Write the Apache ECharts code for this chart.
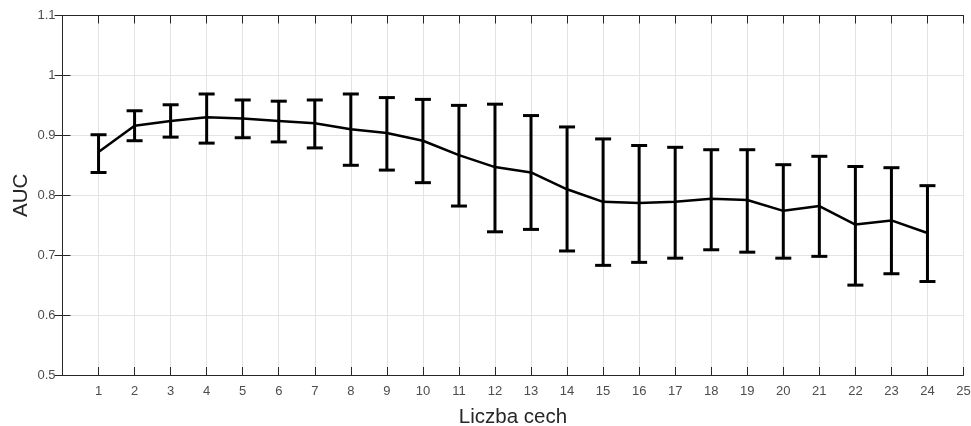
<!DOCTYPE html>
<html>
<head>
<meta charset="utf-8">
<script src="https://cdn.jsdelivr.net/npm/echarts@6/dist/echarts.min.js"></script>
<style>
html,body{margin:0;padding:0;background:#fff;}
#chart{width:971px;height:426px;}
</style>
</head>
<body>
<div id="chart"></div>
<script>
const features = [1,2,3,4,5,6,7,8,9,10,11,12,13,14,15,16,17,18,19,20,21,22,23,24];
const aucMean  = [0.872,0.916,0.924,0.930,0.928,0.924,0.920,0.910,0.904,0.891,0.867,0.847,0.838,0.810,0.789,0.787,0.789,0.794,0.792,0.774,0.782,0.751,0.758,0.737];
const aucUpper = [0.901,0.941,0.951,0.969,0.959,0.957,0.959,0.969,0.963,0.960,0.950,0.952,0.933,0.914,0.894,0.883,0.880,0.876,0.876,0.851,0.865,0.848,0.846,0.816];
const aucLower = [0.838,0.891,0.897,0.887,0.896,0.889,0.879,0.850,0.842,0.821,0.782,0.739,0.743,0.707,0.683,0.688,0.695,0.709,0.705,0.695,0.698,0.650,0.669,0.656];
const xTitle = 'Liczba cech';
const yTitle = 'AUC';

const lineData = features.map((f,i)=>[f, aucMean[i]]);
const errData = features.map((f,i)=>[f, aucLower[i], aucUpper[i]]);

const FONT = 'Liberation Sans, Arial, Helvetica, sans-serif';
const chart = echarts.init(document.getElementById('chart'), null, {renderer:'canvas'});
const labelStyle = {color:'#4d4d4d', fontSize:13, fontFamily:FONT};
const axisLine = {show:true, lineStyle:{color:'#262626', width:1}};
const tick = {show:true, inside:true, length:8, lineStyle:{color:'#262626', width:1}};
const split = {show:true, lineStyle:{color:'#e3e3e3', width:1}};

chart.setOption({
  animation:false,
  backgroundColor:'#fff',
  grid:{left:62.5, right:7.5, top:15.5, bottom:51, containLabel:false, outerBoundsMode:'none'},
  xAxis:[{
    type:'value', min:0, max:25, interval:1, position:'bottom',
    axisLine:axisLine, axisTick:tick, splitLine:split,
    axisLabel:Object.assign({margin:10, formatter:v=> v===0?'':String(v)}, labelStyle),
    name:xTitle, nameLocation:'middle', nameGap:42, nameMoveOverlap:false,
    nameTextStyle:{color:'#262626', fontSize:20.5, fontFamily:FONT, verticalAlign:'middle'}
  },{
    type:'value', min:0, max:25, interval:1, position:'top',
    axisLine:axisLine, axisTick:tick, splitLine:{show:false}, axisLabel:{show:false}
  }],
  yAxis:[{
    type:'value', min:0.5, max:1.1, interval:0.1, position:'left',
    axisLine:axisLine, axisTick:tick, splitLine:split,
    axisLabel:Object.assign({margin:7, formatter:v=>String(Math.round(v*10)/10)}, labelStyle),
    name:yTitle, nameLocation:'middle', nameGap:41, nameMoveOverlap:false,
    nameTextStyle:{color:'#262626', fontSize:20.5, fontFamily:FONT, verticalAlign:'middle'}
  },{
    type:'value', min:0.5, max:1.1, interval:0.1, position:'right',
    axisLine:axisLine, axisTick:tick, splitLine:{show:false}, axisLabel:{show:false}
  }],
  series:[{
    type:'line', data:lineData, symbol:'none', smooth:false,
    lineStyle:{color:'#000', width:2.5}, z:3
  },{
    type:'custom', data:errData, z:4,
    renderItem:function(params, api){
      const x = api.value(0);
      const lo = api.coord([x, api.value(1)]);
      const hi = api.coord([x, api.value(2)]);
      const hw = 8;
      const style = {stroke:'#000', lineWidth:3};
      return {type:'group', children:[
        {type:'line', shape:{x1:lo[0], y1:lo[1], x2:hi[0], y2:hi[1]}, style:style},
        {type:'line', shape:{x1:hi[0]-hw, y1:hi[1], x2:hi[0]+hw, y2:hi[1]}, style:style},
        {type:'line', shape:{x1:lo[0]-hw, y1:lo[1], x2:lo[0]+hw, y2:lo[1]}, style:style}
      ]};
    }
  }]
});
</script>
</body>
</html>
